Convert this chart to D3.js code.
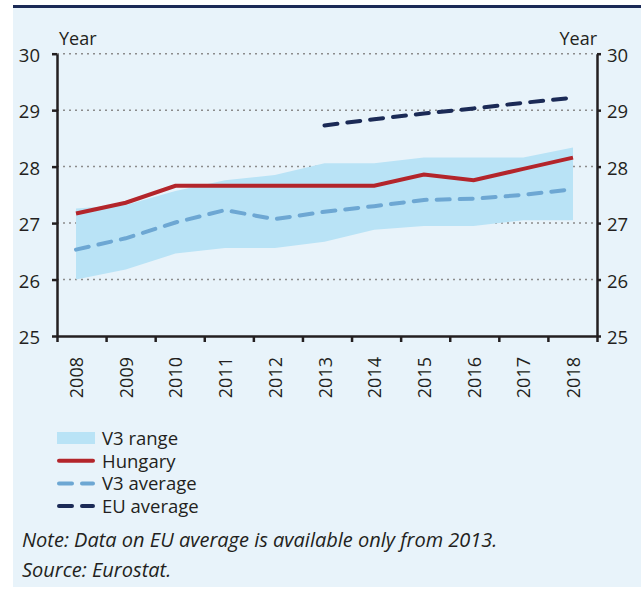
<!DOCTYPE html>
<html>
<head>
<meta charset="utf-8">
<script src="https://cdn.jsdelivr.net/npm/d3@7"></script>
<style>
  body { margin: 0; background: #fff; }
  svg { display: block; font-family: "Open Sans", sans-serif; }
</style>
</head>
<body>
<svg id="chart" width="641" height="590"></svg>
<script>
// Data
var years   = [2008, 2009, 2010, 2011, 2012, 2013, 2014, 2015, 2016, 2017, 2018];
var hungary = [27.17, 27.36, 27.66, 27.66, 27.66, 27.66, 27.66, 27.86, 27.76, 27.96, 28.16];
var v3Avg   = [26.53, 26.73, 27.01, 27.23, 27.07, 27.20, 27.30, 27.41, 27.43, 27.50, 27.60];
var v3Min   = [26.00, 26.18, 26.46, 26.56, 26.56, 26.67, 26.88, 26.95, 26.95, 27.05, 27.05];
var v3Max   = [27.26, 27.32, 27.57, 27.76, 27.85, 28.06, 28.06, 28.16, 28.16, 28.16, 28.34];
var euAvg   = [null, null, null, null, null, 28.73, 28.84, 28.94, 29.03, 29.13, 29.22];
var yTicks  = [25, 26, 27, 28, 29, 30];
var legendLabels = ['V3 range', 'Hungary', 'V3 average', 'EU average'];
var noteText   = 'Note: Data on EU average is available only from 2013.';
var sourceText = 'Source: Eurostat.';

var colors = { range: '#b9e3f6', hungary: '#b3252b', v3: '#6da7d3', eu: '#1b2a56', axis: '#231f20' };

var svg = d3.select('#chart');

// panel background and top rule
svg.append('rect').attr('x', 13).attr('y', 8).attr('width', 628).attr('height', 579).attr('fill', '#e8f3fa');
svg.append('rect').attr('x', 13).attr('y', 5).attr('width', 628).attr('height', 3).attr('fill', '#1b2a56');

var plotLeft = 57, plotRight = 597, plotTop = 53.7, plotBottom = 336;

var y = d3.scaleLinear().domain([25, 30]).range([plotBottom, plotTop]);
var xEdge = d3.scaleLinear().domain([0, years.length]).range([plotLeft, plotRight]);
var x = d3.scalePoint().domain(years).range([76, 573]);

// gridlines
svg.append('g')
  .selectAll('line')
  .data(yTicks.slice(1))
  .enter().append('line')
    .attr('x1', plotLeft).attr('x2', plotRight)
    .attr('y1', function(d) { return y(d); })
    .attr('y2', function(d) { return y(d); })
    .attr('stroke', '#8c8c8c')
    .attr('stroke-width', 1.5)
    .attr('stroke-dasharray', '2,4');

// V3 range band
var rows = years.map(function(yr, i) {
  return { year: yr, hu: hungary[i], avg: v3Avg[i], lo: v3Min[i], hi: v3Max[i], eu: euAvg[i] };
});

svg.append('path')
  .datum(rows)
  .attr('fill', colors.range)
  .attr('d', d3.area()
    .x(function(d) { return x(d.year); })
    .y0(function(d) { return y(d.lo); })
    .y1(function(d) { return y(d.hi); }));

var line = function(key) {
  return d3.line()
    .defined(function(d) { return d[key] != null; })
    .x(function(d) { return x(d.year); })
    .y(function(d) { return y(d[key]); });
};

svg.append('path').datum(rows)
  .attr('fill', 'none').attr('stroke', colors.v3).attr('stroke-width', 4)
  .attr('stroke-dasharray', '13,10').attr('stroke-linecap', 'round')
  .attr('d', line('avg'));

svg.append('path').datum(rows)
  .attr('fill', 'none').attr('stroke', colors.hungary).attr('stroke-width', 4)
  .attr('d', line('hu'));

svg.append('path').datum(rows.filter(function(d) { return d.eu != null; }))
  .attr('fill', 'none').attr('stroke', colors.eu).attr('stroke-width', 4)
  .attr('stroke-dasharray', '13,10').attr('stroke-linecap', 'round')
  .attr('d', line('eu'));

// axes
function styleAxis(g) {
  g.selectAll('path, line').attr('stroke', colors.axis).attr('stroke-width', 2.5);
  g.selectAll('text').attr('fill', '#231f20').attr('font-size', '18.5px').attr('font-family', '"Open Sans", sans-serif').attr('dy', '0.42em');
}

svg.append('g')
  .attr('transform', 'translate(' + plotLeft + ',0)')
  .call(d3.axisLeft(y).tickValues(yTicks).tickFormat(d3.format('d')).tickSize(5).tickSizeOuter(0).tickPadding(12))
  .call(styleAxis);

svg.append('g')
  .attr('transform', 'translate(' + plotRight + ',0)')
  .call(d3.axisRight(y).tickValues(yTicks).tickFormat(d3.format('d')).tickSize(4).tickSizeOuter(0).tickPadding(6))
  .call(styleAxis);

svg.append('g')
  .attr('transform', 'translate(0,' + plotBottom + ')')
  .call(d3.axisBottom(xEdge).ticks(years.length).tickFormat('').tickSize(6).tickSizeOuter(0))
  .call(styleAxis);

// year labels, rotated
svg.append('g')
  .selectAll('text')
  .data(years)
  .enter().append('text')
    .attr('transform', function(d) { return 'translate(' + x(d) + ',357) rotate(-90)'; })
    .attr('text-anchor', 'end')
    .attr('dominant-baseline', 'central')
    .attr('font-size', '18px')
    .attr('fill', '#231f20')
    .text(function(d) { return d; });

// axis titles
svg.append('text').attr('x', plotLeft + 2).attr('y', 45).attr('font-size', '18px').attr('fill', '#231f20').text('Year');
svg.append('text').attr('x', plotRight).attr('y', 45).attr('text-anchor', 'end').attr('font-size', '18px').attr('fill', '#231f20').text('Year');

// legend
var legend = svg.append('g').attr('transform', 'translate(57,438)');
var item = legend.selectAll('g')
  .data(legendLabels)
  .enter().append('g')
    .attr('transform', function(d, i) { return 'translate(0,' + (i * 22.7) + ')'; });

item.each(function(d, i) {
  var g = d3.select(this);
  if (i === 0) {
    g.append('rect').attr('x', 0).attr('y', -6).attr('width', 38).attr('height', 12).attr('fill', colors.range);
  } else {
    var c = [null, colors.hungary, colors.v3, colors.eu][i];
    g.append('line').attr('x1', 2).attr('x2', 36).attr('y1', 0).attr('y2', 0)
      .attr('stroke', c).attr('stroke-width', 4)
      .attr('stroke-linecap', 'round')
      .attr('stroke-dasharray', i === 1 ? null : '13,10');
  }
  g.append('text').attr('x', 45).attr('y', 7).attr('font-size', '18.5px').attr('fill', '#231f20').text(d);
});

// notes
svg.append('text').attr('x', 22).attr('y', 547).attr('font-size', '20px').attr('font-style', 'italic').attr('fill', '#231f20').text(noteText);
svg.append('text').attr('x', 22).attr('y', 577).attr('font-size', '20px').attr('font-style', 'italic').attr('fill', '#231f20').text(sourceText);
</script>
</body>
</html>
